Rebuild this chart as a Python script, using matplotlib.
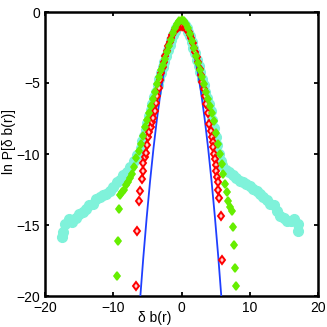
import matplotlib
matplotlib.use("Agg")
import matplotlib.pyplot as plt

plt.rcParams['font.family'] = ['Liberation Sans', 'DejaVu Sans']

# Gaussian reference (blue line)
blue_x = [-6.1, -5.6, -5.1, -4.6, -4.1, -3.6, -3.1, -2.6, -2.1, -1.6, -1.1, -0.6, -0.1,
          0.4, 0.9, 1.4, 1.9, 2.4, 2.9, 3.4, 3.9, 4.4, 4.9, 5.4, 5.9]
blue_y = [-20.45, -17.32, -14.47, -11.89, -9.58, -7.54, -5.77, -4.28, -3.05, -2.10, -1.42, -1.01, -0.88,
          -1.01, -1.42, -2.10, -3.05, -4.28, -5.77, -7.54, -9.58, -11.89, -14.47, -17.32, -20.45]

# cyan series
cyan_x = [-17.55, -17.3, -17.0, -16.5, -16.0, -15.5, -15.0, -14.5, -14.0, -13.5, -13.0, -12.5, -12.0,
          -11.5, -11.0, -10.5, -10.0, -9.5, -9.0, -8.5, -8.0, -7.5, -7.0, -6.5, -6.0,
          -5.75, -5.5, -5.25, -5.0, -4.75, -4.5, -4.25, -4.0, -3.75, -3.5, -3.25, -3.0, -2.75, -2.5,
          -2.25, -2.0, -1.75, -1.5, -1.25, -1.0, -0.75, -0.5, -0.25, 0.0, 0.25, 0.5, 0.75, 1.0,
          1.25, 1.5, 1.75, 2.0, 2.25, 2.5, 2.75, 3.0, 3.25, 3.5, 3.75, 4.0, 4.25, 4.5, 4.75, 5.0,
          5.25, 5.5, 5.75, 6.0, 6.5, 7.0, 7.5, 8.0, 8.5, 9.0, 9.5, 10.0, 10.5, 11.0, 11.5, 12.0,
          12.5, 13.0, 13.5, 14.0, 14.5, 15.0, 15.5, 16.0, 16.5, 17.0, 17.1]
cyan_y = [-15.85, -15.5, -14.9, -14.6, -14.8, -14.5, -14.2, -14.1, -13.9, -13.6, -13.5, -13.2, -13.0,
          -12.9, -12.8, -12.6, -12.3, -12.0, -11.8, -11.5, -11.3, -10.9, -10.5, -10.1, -9.6,
          -9.1, -8.7, -8.3, -7.8, -7.35, -6.9, -6.45, -6.0, -5.6, -5.15, -4.7, -4.3, -3.9, -3.5,
          -3.1, -2.7, -2.35, -2.0, -1.65, -1.35, -1.1, -0.9, -0.75, -0.7, -0.75, -0.9, -1.1, -1.4,
          -1.7, -2.1, -2.5, -2.9, -3.35, -3.8, -4.25, -4.7, -5.15, -5.6, -6.05, -6.5, -7.0, -7.6, -8.2, -8.8,
          -9.4, -10.0, -10.5, -10.8, -11.1, -11.3, -11.5, -11.7, -11.9, -12.0, -12.1, -12.25, -12.45, -12.6, -12.8, -13.0,
          -13.25, -13.5, -13.6, -14.0, -14.4, -14.5, -14.7, -14.7, -14.55, -14.9, -15.4]

# red series
red_x = [-6.67, -6.5, -6.2, -6.1, -5.85, -5.7, -5.6, -5.4, -5.2, -5.05, -4.86, -4.7, -4.5, -4.3, -4.13,
         -3.95, -3.75, -3.55, -3.35, -3.15, -2.95, -2.75, -2.55, -2.35, -2.15, -1.95, -1.75, -1.55,
         -1.35, -1.15, -0.95, -0.75, -0.55, -0.35, -0.15, 0.05, 0.25, 0.45, 0.65, 0.85, 1.05, 1.25,
         1.45, 1.65, 1.85, 2.05, 2.25, 2.45, 2.65, 2.85, 3.05, 3.25, 3.45, 3.65, 3.85, 4.07, 4.25,
         4.4, 4.55, 4.66, 4.78, 4.9, 5.0, 5.1, 5.2, 5.28, 5.4, 5.5, 5.74, 5.98]
red_y = [-19.3, -15.45, -13.3, -12.6, -11.75, -11.2, -10.6, -10.2, -9.9, -9.35, -8.8, -8.45, -8.1, -7.75, -7.45,
         -7.0, -6.4, -5.9, -5.35, -4.8, -4.3, -3.9, -3.5, -3.1, -2.75, -2.4, -2.1, -1.85,
         -1.6, -1.4, -1.25, -1.13, -1.05, -1.0, -0.98, -0.98, -1.0, -1.05, -1.12, -1.25, -1.4, -1.6,
         -1.85, -2.15, -2.5, -2.85, -3.2, -3.55, -4.0, -4.45, -4.95, -5.45, -5.95, -6.5, -7.1, -7.9, -8.4,
         -8.8, -9.15, -9.5, -10.0, -10.35, -10.8, -11.2, -11.6, -12.0, -12.55, -13.1, -14.4, -17.45]

# green series
green_x = [-9.4, -9.25, -9.1, -9.0, -8.7, -8.4, -8.1, -7.8, -7.5, -7.2, -6.9, -6.6, -6.3, -6.0,
           -5.7, -5.4, -5.1, -4.8, -4.5, -4.2, -3.9, -3.6, -3.3, -3.0, -2.7, -2.4, -2.1, -1.8, -1.5,
           -1.2, -0.9, -0.6, -0.3, 0.0, 0.3, 0.6, 0.9, 1.2, 1.5, 1.8, 2.1, 2.4, 2.7, 3.0, 3.3, 3.6,
           3.9, 4.2, 4.5, 4.8, 5.1, 5.4, 5.65, 5.9, 6.15, 6.4, 6.6, 6.86, 7.1, 7.35, 7.5, 7.65, 7.8, 8.0]
green_y = [-18.6, -16.1, -13.85, -12.9, -12.7, -12.55, -12.2, -11.95, -11.7, -11.4, -10.9, -10.3, -9.8, -9.3,
           -8.7, -8.1, -7.6, -7.1, -6.6, -6.1, -5.6, -5.1, -4.6, -4.1, -3.7, -3.3, -2.85, -2.4, -1.95,
           -1.5, -1.1, -0.85, -0.65, -0.56, -0.65, -0.85, -1.15, -1.55, -2.05, -2.55, -3.1, -3.6, -4.1, -4.6, -5.1, -5.6,
           -6.1, -6.6, -7.1, -7.7, -8.5, -9.3, -10.0, -10.7, -11.4, -12.1, -12.7, -13.3, -13.7, -14.0, -15.15, -16.4, -18.05, -19.3]

xticks = [-20, -10, 0, 10, 20]
yticks = [-20, -15, -10, -5, 0]

fig = plt.figure(figsize=(3.27, 3.27), dpi=100)
ax = fig.add_axes([45/327, 1-296/327, 273/327, 284/327])

ax.plot(cyan_x, cyan_y, 'o', color='#7ff2da', ms=7.0, mec='#7ff2da', zorder=2)
ax.plot(blue_x, blue_y, '-', color='#1f3fff', lw=1.3, zorder=3)
ax.plot(red_x, red_y, 'd', color='#ff0000', mfc='#ffd0d0', mec='#ff0000', ms=4.4, mew=1.4, zorder=4)
ax.plot(green_x, green_y, 'd', color='#66ee00', mec='#66ee00', ms=4.4, mew=1.2, zorder=5)

ax.set_xlim(-20, 20)
ax.set_ylim(-20, 0)
ax.set_xticks(xticks)
ax.set_yticks(yticks)
ax.set_xticklabels(['\u221220', '\u221210', '0', '10', '20'])
ax.set_yticklabels(['\u221220', '\u221215', '\u221210', '\u22125', '0'])
ax.tick_params(direction='in', length=3, width=1.3, top=True, right=True, labelsize=10, pad=3.5)
for s in ax.spines.values():
    s.set_linewidth(1.8)

fig.text(155/327, 1-318/327, '\u03b4 b(r)', ha='center', va='center', fontsize=10)
fig.text(9/327, 1-142/327, 'ln P[\u03b4 b(r)]', ha='center', va='center', rotation=90, fontsize=10)

fig.savefig('out.png', dpi=100)
